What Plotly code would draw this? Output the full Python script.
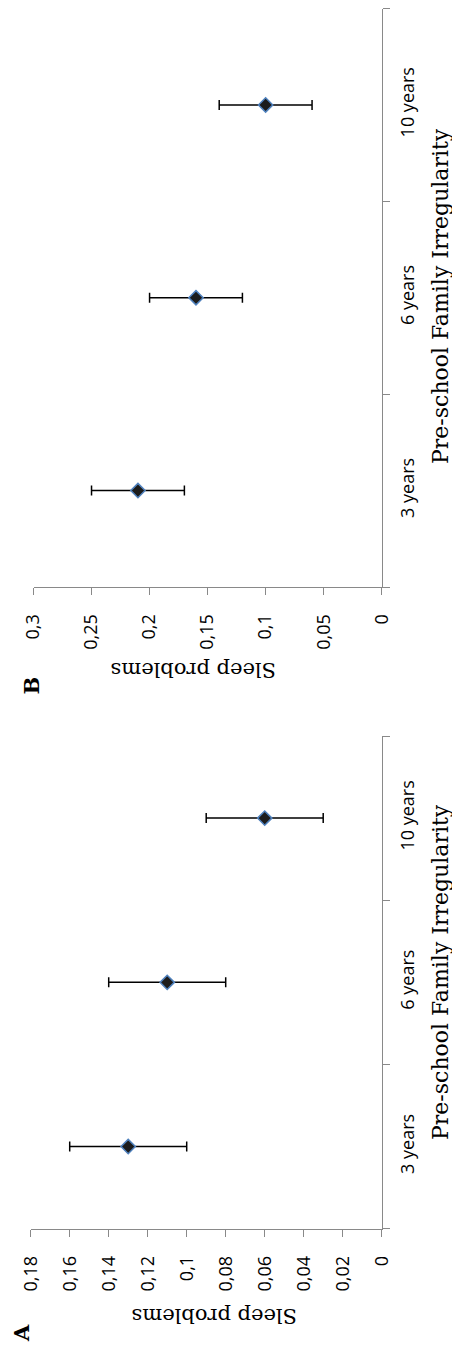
import plotly.graph_objects as go

categories = ["3 years", "6 years", "10 years"]

# Panel A
a_values = [0.13, 0.11, 0.06]
a_errors = [0.03, 0.03, 0.03]
a_tickvals = [0, 0.02, 0.04, 0.06, 0.08, 0.1, 0.12, 0.14, 0.16, 0.18]
a_ticktext = ["0", "0,02", "0,04", "0,06", "0,08", "0,1", "0,12", "0,14", "0,16", "0,18"]

# Panel B
b_values = [0.21, 0.16, 0.10]
b_errors = [0.04, 0.04, 0.04]
b_tickvals = [0, 0.05, 0.1, 0.15, 0.2, 0.25, 0.3]
b_ticktext = ["0", "0,05", "0,1", "0,15", "0,2", "0,25", "0,3"]

x_title = "Sleep problems"
y_title = "Pre-school Family Irregularity"

# The page body has an 8px margin, so the figure is drawn 8px in from the corner.
OFF = 8
W, H = 460 - OFF, 1348 - OFF
AXIS_COLOR = "#898989"
TICK_FONT = dict(family="Open Sans", size=18, color="#000000")
TITLE_FONT = dict(family="DejaVu Serif", size=21, color="#000000")
YTITLE_FONT = dict(family="DejaVu Serif", size=22, color="#000000")

marker = dict(symbol="diamond", size=11, color="#1c1c1c",
              line=dict(color="#4f81bd", width=1.5))

fig = go.Figure()
fig.add_trace(go.Scatter(
    x=a_values, y=categories, mode="markers", marker=marker,
    error_x=dict(type="data", array=a_errors, color="#000000", thickness=1.5, width=5),
    xaxis="x", yaxis="y", showlegend=False))
fig.add_trace(go.Scatter(
    x=b_values, y=categories, mode="markers", marker=marker,
    error_x=dict(type="data", array=b_errors, color="#000000", thickness=1.5, width=5),
    xaxis="x2", yaxis="y2", showlegend=False))

def px_x(p):
    return min(1.0, max(0.0, (p - OFF) / W))

def px_y(p):
    return min(1.0, max(0.0, (H - (p - OFF)) / H))

common_x = dict(showgrid=False, zeroline=False, showline=True, linecolor=AXIS_COLOR,
                linewidth=1, ticks="outside", ticklen=7, tickcolor=AXIS_COLOR,
                tickwidth=1, tickangle=-90, tickfont=TICK_FONT, automargin=False,
                ticklabelstandoff=12, fixedrange=True)
common_y = dict(showgrid=False, zeroline=False, showline=True, linecolor=AXIS_COLOR,
                linewidth=1, ticks="outside", ticklen=7, tickcolor=AXIS_COLOR,
                tickwidth=1, tickangle=-90, tickfont=TICK_FONT, automargin=False,
                side="right", type="category", categoryorder="array",
                categoryarray=categories, tickson="boundaries",
                range=[-0.5, 2.5], ticklabelstandoff=10, fixedrange=True)

fig.update_layout(
    width=W, height=H,
    margin=dict(l=0, r=0, t=0, b=0),
    paper_bgcolor="white", plot_bgcolor="white",
    xaxis=dict(common_x, domain=[px_x(30.7), px_x(381.7)], range=[0.18, 0],
               tickvals=a_tickvals, ticktext=a_ticktext, anchor="y"),
    yaxis=dict(common_y, domain=[px_y(1228.7), px_y(736)], anchor="x"),
    xaxis2=dict(common_x, domain=[px_x(33.5), px_x(381.7)], range=[0.3, 0],
                tickvals=b_tickvals, ticktext=b_ticktext, anchor="y2"),
    yaxis2=dict(common_y, domain=[px_y(587), px_y(8.5)], anchor="x2"),
    annotations=[
        dict(text=y_title, x=px_x(440), y=px_y(972), xref="paper", yref="paper",
             textangle=-90, showarrow=False, font=YTITLE_FONT,
             xanchor="center", yanchor="middle"),
        dict(text=y_title, x=px_x(440), y=px_y(296), xref="paper", yref="paper",
             textangle=-90, showarrow=False, font=YTITLE_FONT,
             xanchor="center", yanchor="middle"),
        dict(text=x_title, x=px_x(215), y=px_y(1316), xref="paper", yref="paper",
             textangle=180, showarrow=False, font=TITLE_FONT,
             xanchor="center", yanchor="middle"),
        dict(text=x_title, x=px_x(193.5), y=px_y(670), xref="paper", yref="paper",
             textangle=180, showarrow=False, font=TITLE_FONT,
             xanchor="center", yanchor="middle"),
        dict(text="<b>A</b>", x=px_x(21), y=px_y(1333), xref="paper", yref="paper",
             textangle=-90, showarrow=False,
             font=dict(family="DejaVu Serif", size=21, color="#000000"),
             xanchor="center", yanchor="middle"),
        dict(text="<b>B</b>", x=px_x(30.5), y=px_y(686), xref="paper", yref="paper",
             textangle=-90, showarrow=False,
             font=dict(family="DejaVu Serif", size=21, color="#000000"),
             xanchor="center", yanchor="middle"),
    ],
)

fig.write_html("out.html")
